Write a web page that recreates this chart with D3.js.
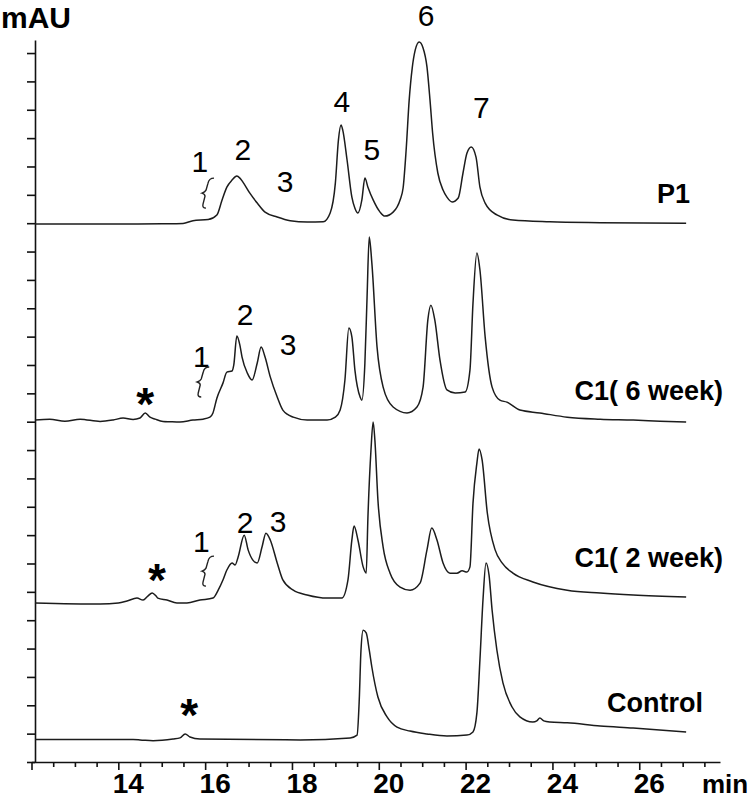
<!DOCTYPE html>
<html>
<head>
<meta charset="utf-8">
<script src="https://cdn.jsdelivr.net/npm/d3@7"></script>
<style>
  body { margin: 0; background: #fff; }
  svg { display: block; font-family: "Liberation Sans", Arial, sans-serif; }
</style>
</head>
<body>
<svg id="chart" width="750" height="800"></svg>
<script>
// HPLC chromatograms, four stacked traces (retention time in min, absorbance in mAU).

const xTickLabels = [14, 16, 18, 20, 22, 24, 26];

const p1 = [
  [12.08, 18.97], [14.0, 18.97], [15.0, 18.98], [15.49, 18.99], [15.72, 19.09], [16.07, 19.13],
  [16.27, 19.29], [16.39, 19.82], [16.50, 20.27], [16.62, 20.52], [16.73, 20.66], [16.80, 20.59],
  [16.87, 20.45], [17.03, 20.06], [17.20, 19.71], [17.38, 19.39], [17.66, 19.22], [17.96, 19.09],
  [18.35, 19.04], [18.72, 19.05], [18.88, 19.36], [19.00, 20.42], [19.07, 21.93], [19.13, 22.46],
  [19.17, 22.28], [19.27, 21.22], [19.38, 19.92], [19.45, 19.53], [19.52, 19.36], [19.61, 19.82],
  [19.68, 20.59], [19.75, 20.27], [19.87, 19.82], [20.03, 19.39], [20.14, 19.25], [20.33, 19.39],
  [20.49, 19.82], [20.56, 20.24], [20.63, 21.58], [20.70, 23.34], [20.77, 24.47], [20.84, 25.11],
  [20.93, 25.39], [21.02, 25.18], [21.11, 24.51], [21.18, 23.34], [21.24, 22.18], [21.36, 20.77],
  [21.48, 20.17], [21.57, 19.92], [21.69, 19.75], [21.83, 19.89], [21.94, 20.77], [22.03, 21.47],
  [22.13, 21.69], [22.24, 21.33], [22.33, 20.27], [22.45, 19.71], [22.72, 19.29], [23.09, 19.11],
  [23.94, 19.05], [25.10, 19.02], [27.08, 19.00]
];

const c1Week6 = [
  [12.08, 12.06], [12.42, 12.09], [12.77, 12.02], [13.12, 12.09], [13.58, 12.01], [13.88, 12.06],
  [14.11, 12.13], [14.34, 12.08], [14.50, 12.13], [14.62, 12.31], [14.73, 12.16], [14.85, 12.09],
  [15.03, 12.01], [15.19, 12.00], [15.42, 11.99], [15.72, 12.06], [15.95, 12.09], [16.11, 12.16],
  [16.18, 12.31], [16.27, 12.83], [16.41, 13.36], [16.50, 13.75], [16.62, 13.79], [16.66, 14.00],
  [16.73, 15.02], [16.80, 14.70], [16.85, 14.28], [16.97, 13.72], [17.08, 13.47], [17.20, 14.07],
  [17.29, 14.63], [17.38, 14.28], [17.50, 13.58], [17.66, 12.87], [17.79, 12.41], [18.03, 12.16],
  [18.35, 12.06], [18.81, 12.06], [19.00, 12.16], [19.11, 12.41], [19.22, 13.47], [19.31, 15.30],
  [19.38, 14.99], [19.45, 13.82], [19.57, 12.87], [19.61, 12.76], [19.68, 14.07], [19.73, 16.40],
  [19.78, 18.51], [19.84, 17.60], [19.96, 14.63], [20.10, 13.22], [20.33, 12.52], [20.65, 12.31],
  [20.88, 12.52], [21.02, 13.22], [21.13, 15.59], [21.20, 16.11], [21.29, 15.59], [21.41, 14.17],
  [21.57, 13.12], [21.76, 13.01], [21.99, 13.05], [22.10, 13.82], [22.17, 16.18], [22.26, 17.95],
  [22.33, 17.35], [22.45, 14.99], [22.61, 13.22], [22.79, 12.76], [22.95, 12.69], [23.25, 12.41],
  [23.71, 12.31], [24.34, 12.16], [25.10, 12.09], [25.86, 12.06], [26.48, 12.02], [27.08, 11.99]
];

const c1Week2 = [
  [12.08, 5.61], [13.58, 5.57], [14.00, 5.61], [14.20, 5.68], [14.43, 5.78], [14.57, 5.71],
  [14.68, 5.85], [14.78, 5.96], [14.87, 5.85], [14.91, 5.78], [15.12, 5.71], [15.35, 5.61],
  [15.58, 5.61], [15.88, 5.71], [16.18, 5.78], [16.30, 6.06], [16.41, 6.42], [16.50, 6.77],
  [16.62, 7.02], [16.69, 6.95], [16.76, 7.23], [16.90, 8.00], [16.99, 7.48], [17.10, 7.12],
  [17.20, 7.02], [17.31, 7.58], [17.40, 8.07], [17.50, 7.83], [17.66, 7.02], [17.79, 6.42],
  [18.03, 6.06], [18.35, 5.89], [18.81, 5.78], [19.15, 5.78], [19.29, 6.42], [19.38, 7.83],
  [19.43, 8.32], [19.52, 7.83], [19.64, 6.88], [19.71, 6.66], [19.75, 8.64], [19.82, 11.00],
  [19.87, 11.99], [19.91, 11.35], [19.98, 9.24], [20.10, 7.58], [20.26, 6.66], [20.49, 6.17],
  [20.72, 6.06], [20.95, 6.31], [21.11, 7.48], [21.22, 8.25], [21.34, 7.83], [21.48, 7.02],
  [21.64, 6.66], [21.80, 6.66], [21.92, 6.74], [22.03, 6.70], [22.10, 6.88], [22.17, 9.13],
  [22.26, 10.54], [22.31, 11.04], [22.38, 10.65], [22.50, 8.78], [22.68, 7.48], [22.84, 7.02],
  [23.09, 6.66], [23.55, 6.35], [24.34, 6.06], [25.10, 5.96], [25.86, 5.89], [27.08, 5.82]
];

const control = [
  [12.08, 0.79], [14.34, 0.79], [14.50, 0.78], [14.80, 0.75], [15.26, 0.81], [15.42, 0.85],
  [15.54, 0.99], [15.65, 0.88], [15.88, 0.81], [18.19, 0.78], [19.34, 0.85], [19.50, 0.95],
  [19.55, 2.19], [19.59, 3.95], [19.64, 4.65], [19.71, 4.55], [19.78, 3.95], [19.84, 3.35],
  [19.98, 2.29], [20.19, 1.59], [20.42, 1.23], [20.72, 1.09], [21.11, 0.99], [21.57, 0.92],
  [22.03, 0.95], [22.17, 1.06], [22.26, 1.73], [22.33, 3.60], [22.40, 5.71], [22.47, 7.02],
  [22.54, 6.59], [22.61, 5.36], [22.72, 3.95], [22.86, 2.79], [23.07, 1.94], [23.25, 1.59],
  [23.55, 1.41], [23.64, 1.45], [23.71, 1.55], [23.80, 1.45], [23.94, 1.41], [24.34, 1.38],
  [25.10, 1.27], [25.86, 1.20], [27.08, 1.06]
];

const traces = [p1, c1Week6, c1Week2, control];

// [time, mAU, text] for the trace names (right aligned)
const traceLabels = [
  [27.17, 19.71, "P1"],
  [27.93, 12.76, "C1( 6 week)"],
  [27.93, 6.88, "C1( 2 week)"],
  [27.47, 1.76, "Control"]
];

// [time, mAU, text] peak numbers
const peakLabels = [
  [15.88, 20.80, "1"], [16.87, 21.23, "2"], [17.84, 20.10, "3"], [19.15, 22.92, "4"],
  [19.84, 21.23, "5"], [21.09, 25.95, "6"], [22.36, 22.71, "7"],
  [15.91, 13.93, "1"], [16.92, 15.41, "2"], [17.91, 14.35, "3"],
  [15.91, 7.40, "1"], [16.92, 8.07, "2"], [17.68, 8.11, "3"]
];

const braces = [[16.02, 20.06], [15.91, 13.40], [16.02, 6.73]];
const stars = [[14.62, 12.94], [14.89, 6.73], [15.63, 1.97]];

const svg = d3.select("#chart");

const x = d3.scaleLinear().domain([12, 27.86]).range([31.5, 720]);
const y = d3.scaleLinear().domain([0, 25.46]).range([762, 40]);

// y axis: unlabelled ticks every 1 mAU
svg.append("g")
  .attr("transform", "translate(35,0)")
  .call(d3.axisLeft(y).tickValues(d3.range(0, 26)).tickSize(8).tickSizeOuter(0).tickFormat(""))
  .call(g => g.selectAll("line, path").attr("stroke", "#111").attr("stroke-width", 1.6));

// x axis: ticks every 0.5 min, longer on even minutes
const xTicks = d3.range(24, 56).map(d => d / 2);
svg.append("g")
  .attr("transform", "translate(0,762)")
  .call(d3.axisBottom(x).tickValues(xTicks).tickSize(5).tickSizeOuter(0).tickFormat(""))
  .call(g => g.selectAll("line, path").attr("stroke", "#111").attr("stroke-width", 1.6))
  .call(g => g.selectAll(".tick line").attr("y2", d => (d % 2 === 0 ? 8 : 5)));

svg.append("g")
  .selectAll("text")
  .data(xTickLabels)
  .join("text")
  .attr("x", d => x(d) + 10)
  .attr("y", 793)
  .attr("text-anchor", "middle")
  .attr("font-size", 28)
  .attr("font-weight", "bold")
  .text(d => d);

svg.append("text")
  .attr("x", 702).attr("y", 793)
  .attr("font-size", 26).attr("font-weight", "bold")
  .text("min");

svg.append("text")
  .attr("x", 1).attr("y", 28)
  .attr("font-size", 30).attr("font-weight", "bold")
  .text("mAU");

const line = d3.line()
  .x(d => x(d[0]))
  .y(d => y(d[1]))
  .curve(d3.curveMonotoneX);

svg.append("g")
  .selectAll("path")
  .data(traces)
  .join("path")
  .attr("d", line)
  .attr("fill", "none")
  .attr("stroke", "#1c1c1c")
  .attr("stroke-width", 1.5)
  .attr("stroke-linejoin", "round");

svg.append("g")
  .selectAll("text")
  .data(traceLabels)
  .join("text")
  .attr("x", d => x(d[0]))
  .attr("y", d => y(d[1]))
  .attr("text-anchor", "end")
  .attr("font-size", 27)
  .attr("font-weight", "bold")
  .text(d => d[2]);

svg.append("g")
  .selectAll("text")
  .data(peakLabels)
  .join("text")
  .attr("x", d => x(d[0]))
  .attr("y", d => y(d[1]))
  .attr("text-anchor", "middle")
  .attr("font-size", 30)
  .text(d => d[2]);

// slanted curly brace next to peak 1
svg.append("g")
  .selectAll("path")
  .data(braces)
  .join("path")
  .attr("transform", d => `translate(${x(d[0])},${y(d[1])})`)
  .attr("d", "M8,-15 Q3,-15 2,-10 L0,-3 Q-1,-1 -4,0 Q-1,1 -1,3 L-3,11 Q-4,15 0,15")
  .attr("fill", "none")
  .attr("stroke", "#222")
  .attr("stroke-width", 1.4);

svg.append("g")
  .selectAll("text")
  .data(stars)
  .join("text")
  .attr("x", d => x(d[0]))
  .attr("y", d => y(d[1]) + 25)
  .attr("text-anchor", "middle")
  .attr("font-size", 46)
  .attr("font-weight", "bold")
  .text("*");
</script>
</body>
</html>
